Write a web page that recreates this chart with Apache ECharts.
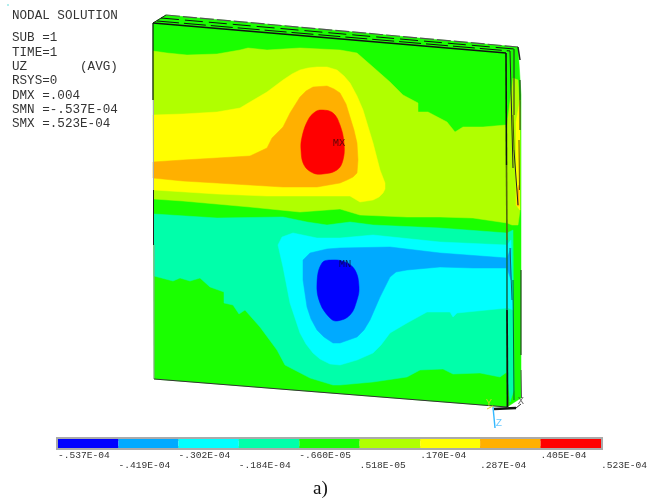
<!DOCTYPE html>
<html>
<head>
<meta charset="utf-8">
<title>Nodal solution UZ</title>
<style>
  html, body { margin: 0; padding: 0; background: #fff; }
  #chart { width: 660px; height: 499px; }
</style>
<script src="https://cdn.jsdelivr.net/npm/echarts@6/dist/echarts.min.js"></script>
</head>
<body>
<div id="chart"></div>
<script>
// 1. legend data
const bandColors = ["#0000ff", "#00aaff", "#00ffff", "#00ffaa", "#1aff00", "#b0ff00", "#ffff00", "#ffb000", "#ff0000"];
const levels = [-53.7, -41.9, -30.2, -18.4, -6.6, 5.18, 17.0, 28.7, 40.5, 52.3];
const levelLabels = ["-.537E-04", "-.419E-04", "-.302E-04", "-.184E-04", "-.660E-05", ".518E-05", ".170E-04", ".287E-04", ".405E-04", ".523E-04"];
const infoLines = ["NODAL SOLUTION", "SUB =1", "TIME=1", "UZ       (AVG)", "RSYS=0", "DMX =.004", "SMN =-.537E-04", "SMX =.523E-04"];

// 2. contour outlines, in picture units (painted back to front)
const plate = [[153, 23], [506, 53], [507, 407], [154, 379]];
const limeBand = [[153, 51], [167, 53], [187, 55], [217, 54], [240, 50], [248, 48], [267, 50], [300, 48], [340, 50], [357, 53], [373, 67], [390, 82], [403, 95], [418, 103], [418, 112], [428, 112], [447, 122], [455, 132], [463, 127], [472, 127], [483, 127], [506, 125], [507, 223], [473, 218], [440, 217], [407, 217], [360, 215], [340, 209], [300, 212], [250, 207], [183, 201], [154, 199]];
const yellowBand = [[153, 115], [183, 114], [217, 112], [240, 108], [250, 102], [267, 92], [283, 80], [292, 74], [300, 70], [308, 68], [317, 67], [327, 67], [337, 70], [344, 76], [350, 83], [357, 96], [363, 110], [373, 143], [380, 170], [385, 183], [385, 189], [383, 193], [379, 197], [373, 200], [360, 202], [350, 196], [267, 196], [217, 194], [154, 190]];
const orangeBand = [[153, 162], [183, 160], [217, 158], [250, 156], [267, 148], [272, 138], [283, 127], [290, 113], [300, 97], [306, 91], [313, 87], [327, 86], [334, 89], [340, 93], [346, 104], [350, 117], [354, 130], [357, 143], [358, 160], [357, 173], [353, 177], [347, 180], [340, 183], [317, 187], [283, 187], [250, 185], [217, 183], [183, 181], [153, 178]];
const redBand = [[322, 110], [333, 113], [340, 125], [344, 143], [343, 160], [337, 170], [323, 174], [313, 173], [304, 165], [301, 150], [302, 137], [308, 120], [315, 112]];
const springBand = [[154, 214], [217, 218], [283, 217], [307, 222], [327, 225], [350, 222], [373, 225], [440, 228], [507, 233], [507, 372], [500, 377], [480, 373], [453, 374], [443, 369], [420, 370], [407, 377], [373, 382], [340, 385], [333, 385], [310, 378], [285, 365], [277, 350], [260, 327], [245, 310], [239, 314], [233, 305], [224, 303], [224, 292], [210, 287], [200, 278], [190, 281], [180, 278], [173, 281], [154, 276]];
const cyanBand = [[278, 245], [282, 237], [293, 233], [317, 238], [340, 238], [373, 235], [440, 242], [507, 245], [507, 308], [457, 313], [453, 317], [450, 312], [427, 312], [407, 323], [390, 333], [381, 345], [373, 353], [357, 360], [340, 365], [330, 364], [320, 359], [313, 353], [306, 344], [300, 333], [290, 303], [283, 267]];
const azureBand = [[303, 260], [310, 253], [327, 249], [340, 248], [390, 247], [440, 253], [507, 258], [507, 268], [473, 268], [440, 267], [407, 270], [396, 272], [390, 277], [380, 297], [370, 320], [364, 330], [357, 337], [340, 343], [333, 343], [324, 337], [317, 330], [311, 319], [307, 307], [303, 280]];
const blueBand = [[332, 260], [322, 263], [317, 283], [320, 303], [330, 318], [337, 321], [350, 315], [357, 300], [359, 287], [355, 270], [345, 262]];

// side and top rim of the plate
const rimTop = [[153, 23], [166, 15], [518, 47], [506, 53]];
const sideBase = [[506, 53], [518, 47], [521, 95], [521, 398], [507, 407]];
const sideLime = [[507, 125], [513, 78], [518, 80], [520, 110], [520, 210], [518, 225], [512, 225], [507, 223]];
const sideYellow = [[516, 122], [520, 100], [520, 210], [516, 205]];
const sideOrange = [[517, 190], [519, 185], [519, 206], [517, 206]];
const sideSpring = [[507, 233], [513, 230], [514, 390], [510, 402], [507, 372]];
const sideCyan = [[507, 245], [511, 240], [513, 310], [508, 308]];
const sideAzure = [[507, 258], [511, 248], [511, 280], [507, 268]];

const fills = [
  { pts: plate, band: 4 }, { pts: limeBand, band: 5 }, { pts: yellowBand, band: 6 }, { pts: orangeBand, band: 7 }, { pts: redBand, band: 8, smooth: 0.4 },
  { pts: springBand, band: 3 }, { pts: cyanBand, band: 2 }, { pts: azureBand, band: 1 }, { pts: blueBand, band: 0, smooth: 0.4 },
  { pts: rimTop, band: 4 }, { pts: sideBase, band: 4 }, { pts: sideLime, band: 5 }, { pts: sideYellow, band: 6 }, { pts: sideOrange, band: 7 },
  { pts: sideSpring, band: 3 }, { pts: sideCyan, band: 2 }, { pts: sideAzure, band: 1 }
];

// edges: points, colour, width, dash
const edges = [
  { pts: [[153, 23], [153, 100]], color: "#111", width: 1.2 },
  { pts: [[153.5, 100], [153.5, 190]], color: "#aaa", width: 1 },
  { pts: [[153.5, 190], [153.5, 245]], color: "#222", width: 1 },
  { pts: [[154, 245], [154, 379]], color: "#999", width: 1 },
  { pts: [[154, 379], [507, 407]], color: "#333", width: 1 },
  { pts: [[153, 23], [166, 15]], color: "#222", width: 1 },
  { pts: [[166, 15], [518, 47]], color: "#555", width: 1.2, dash: [14, 3] },
  { pts: [[161, 18], [514, 49]], color: "#111", width: 1, dash: [18, 6] },
  { pts: [[157, 21], [510, 51]], color: "#111", width: 1, dash: [22, 5] },
  { pts: [[153, 23], [506, 53]], color: "#111", width: 1.3 },
  { pts: [[506, 53], [506.5, 165]], color: "#111", width: 1.6 },
  { pts: [[506.5, 165], [507, 240]], color: "#55660a", width: 1.6 },
  { pts: [[507, 240], [507, 310]], color: "#0d6a6a", width: 1.6 },
  { pts: [[507, 310], [507.5, 407]], color: "#111", width: 1.8 },
  { pts: [[518, 47], [520, 60]], color: "#222", width: 1.5 },
  { pts: [[510, 51], [513, 168]], color: "#222", width: 1 },
  { pts: [[514, 49], [514, 115]], color: "#222", width: 1 },
  { pts: [[513, 115], [514, 150]], color: "#445500", width: 1 },
  { pts: [[514, 150], [518, 205]], color: "#222", width: 1 },
  { pts: [[510, 248], [512, 300]], color: "#0d6a6a", width: 1 },
  { pts: [[513, 280], [514, 400]], color: "#063", width: 1 },
  { pts: [[520, 80], [520, 130]], color: "#222", width: 1 },
  { pts: [[519, 140], [519.5, 190]], color: "#665500", width: 1 },
  { pts: [[521, 270], [521, 355]], color: "#222", width: 1 },
  { pts: [[521, 370], [521.5, 398]], color: "#555", width: 1 },
  { pts: [[494, 409], [516, 408]], color: "#111", width: 2.6 },
  { pts: [[516, 408], [521, 404]], color: "#333", width: 1 },
  { pts: [[487, 409], [493, 406]], color: "#dddd22", width: 1 },
  { pts: [[493, 407], [495, 428]], color: "#33b8ff", width: 1.4 },
  { pts: [[7, 5], [9, 5]], color: "#66dddd", width: 1 }
];

// plate marks and triad letters
const plateLabels = [
  { name: "MX", value: [339, 143], color: "#3a0808" },
  { name: "MN", value: [345, 264], color: "#06063a" },
  { name: "X", value: [521, 401], color: "#444" },
  { name: "Y", value: [489, 403], color: "#d8d820" },
  { name: "Z", value: [499, 423], color: "#44bbff" }
];

// 3. draw
const chart = echarts.init(document.getElementById("chart"), null, { renderer: "canvas" });
const monoFont = "Liberation Mono, Courier New, monospace";

function toPoints(api, pts) {
  return pts.map(p => api.coord(p));
}

chart.setOption({
  animation: false,
  backgroundColor: "#fff",
  grid: [
    { left: 0, top: 0, width: 660, height: 499 },
    { left: 58, top: 439, width: 543, height: 9, show: true, borderColor: "#aaa", borderWidth: 4, backgroundColor: "transparent" }
  ],
  xAxis: [
    { gridIndex: 0, type: "value", min: 0, max: 660, show: false },
    {
      gridIndex: 1, type: "value", min: levels[0], max: levels[9],
      axisLine: { show: false }, axisTick: { show: false }, splitLine: { show: false },
      axisLabel: {
        customValues: levels, hideOverlap: false, margin: 2, align: "left", color: "#333",
        fontFamily: monoFont, fontSize: 9.6, lineHeight: 10,
        formatter: v => {
          const i = levels.indexOf(v);
          return (i % 2 ? "\n" : "") + levelLabels[i];
        }
      }
    }
  ],
  yAxis: [
    { gridIndex: 0, type: "value", min: 0, max: 499, inverse: true, show: false },
    { gridIndex: 1, type: "value", min: 0, max: 1, show: false }
  ],
  series: [
    {
      type: "custom", xAxisIndex: 0, yAxisIndex: 0, silent: true, coordinateSystem: "cartesian2d", clip: false,
      data: fills.map((f, i) => [f.pts[0][0], f.pts[0][1], i]),
      renderItem: (params, api) => {
        const f = fills[api.value(2)];
        const color = bandColors[f.band];
        return { type: "polygon", shape: { points: toPoints(api, f.pts), smooth: f.smooth || 0 }, style: { fill: color, stroke: color, lineWidth: 0.5 } };
      }
    },
    {
      type: "custom", xAxisIndex: 0, yAxisIndex: 0, silent: true, clip: false,
      data: edges.map((e, i) => [e.pts[0][0], e.pts[0][1], i]),
      renderItem: (params, api) => {
        const e = edges[api.value(2)];
        return {
          type: "polyline", shape: { points: toPoints(api, e.pts) },
          style: { fill: null, stroke: e.color, lineWidth: e.width, lineDash: e.dash || null }
        };
      }
    },
    {
      type: "scatter", xAxisIndex: 0, yAxisIndex: 0, silent: true, symbolSize: 0,
      data: plateLabels.map(l => ({
        name: l.name, value: l.value,
        label: { show: true, position: "inside", formatter: "{b}", color: l.color, fontFamily: monoFont, fontSize: 10.5 }
      }))
    },
    {
      // legend colour bands
      type: "custom", xAxisIndex: 1, yAxisIndex: 1, silent: true, clip: false,
      data: bandColors.map((c, i) => [levels[i], levels[i + 1], i]),
      renderItem: (params, api) => {
        const a = api.coord([api.value(0), 1]);
        const b = api.coord([api.value(1), 0]);
        return {
          type: "rect", shape: { x: a[0], y: a[1], width: b[0] - a[0], height: b[1] - a[1] },
          style: { fill: bandColors[api.value(2)] }
        };
      }
    }
  ],
  graphic: [
    ...infoLines.map((t, i) => ({
      type: "text", left: 12, top: (i === 0 ? 16 : 38 + (i - 1) * 14.33) - 7, silent: true,
      style: { text: t, fill: "#333", font: "12.6px " + monoFont, lineHeight: 14 }
    })),
    { type: "text", left: 313, top: 480, silent: true, style: { text: "a)", fill: "#111", font: "19px Liberation Serif, serif" } }
  ]
});
</script>
</body>
</html>
